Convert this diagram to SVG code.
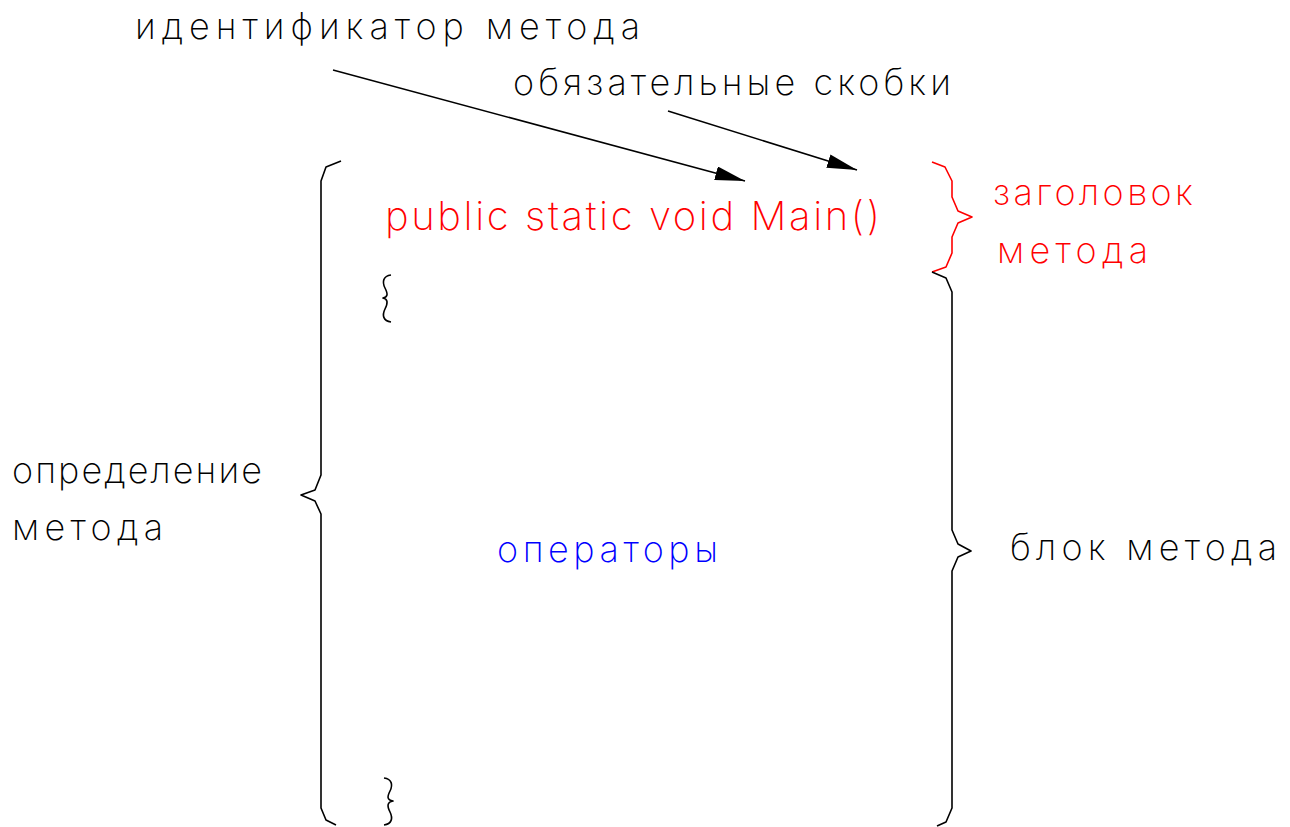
<svg xmlns="http://www.w3.org/2000/svg" width="1290" height="827" viewBox="0 0 1290 827">
  <style>
    text { font-family: Inter, "DejaVu Sans", sans-serif; font-weight: 200; font-size: 36px; }
    .blk { fill: #000; }
    .red { fill: #ff0000; }
    .blue { fill: #0000ff; }
    .br { fill: none; stroke: #000; stroke-width: 1.6; stroke-linejoin: round; }
    .brr { fill: none; stroke: #ff0000; stroke-width: 1.6; stroke-linejoin: round; }
    .ln { stroke: #000; stroke-width: 1.5; }
  </style>
  <defs>
    <marker id="arrow" viewBox="0 0 30 14" refX="30" refY="7" markerWidth="30" markerHeight="14" markerUnits="userSpaceOnUse" orient="auto">
      <path d="M0,0 L30,7 L0,14 Z" fill="#000"/>
    </marker>
  </defs>
  <rect width="1290" height="827" fill="#fff"/>

  <!-- callout labels -->
  <g id="label-identifier">
    <text class="blk" x="135" y="39" textLength="505" lengthAdjust="spacing">идентификатор метода</text>
  </g>
  <g id="label-parens">
    <text class="blk" x="513" y="95" textLength="438" lengthAdjust="spacing">обязательные скобки</text>
  </g>

  <!-- method header -->
  <g id="header">
    <text class="red" x="385" y="230" textLength="495" lengthAdjust="spacing" style="font-size:40px">public static void Main()</text>
  </g>
  <g id="label-header">
    <text class="red" x="993" y="205" textLength="200" lengthAdjust="spacing">заголовок</text>
    <text class="red" x="997" y="263" textLength="151" lengthAdjust="spacing">метода</text>
  </g>

  <!-- method definition -->
  <g id="label-definition">
    <text class="blk" x="12" y="483" textLength="250" lengthAdjust="spacing">определение</text>
    <text class="blk" x="12" y="540" textLength="151" lengthAdjust="spacing">метода</text>
  </g>

  <!-- statements -->
  <g id="statements">
    <text class="blue" x="497" y="562" textLength="221" lengthAdjust="spacing">операторы</text>
  </g>

  <!-- method body -->
  <g id="label-body">
    <text class="blk" x="1010" y="560" textLength="267" lengthAdjust="spacing">блок метода</text>
  </g>

  <!-- code braces -->
  <g id="open-brace">
    <path class="br" d="M391,275 C383,276 382,282 385,288 C388,294 388,297 383,298 C388,299 388,303 385,309 C382,315 383,321 391,322"/>
  </g>
  <g id="close-brace">
    <path class="br" d="M384,778 C392,779 393,785 390,791 C387,797 387,800 393,801 C387,802 387,806 390,812 C393,818 392,824 384,825"/>
  </g>

  <!-- annotation braces -->
  <g id="brace-definition">
    <path class="br" d="M341,161 L326,167 L321,181 L321,475 L315,490 L301,495 L315,501 L321,514 L321,808 L326,820 L336,825"/>
  </g>
  <g id="brace-header">
    <path class="brr" d="M932,162 L945,167 L952,181 L952,197 L958,211 L972,217 L958,223 L952,237 L952,253 L946,267 L932,272"/>
  </g>
  <g id="brace-body">
    <path class="br" d="M932,272 L946,278 L952,292 L952,530 L958,544 L971,551 L958,557 L952,571 L952,808 L946,822 L937,826"/>
  </g>

  <!-- connectors -->
  <g id="connectors">
    <line class="ln" x1="333" y1="70" x2="745" y2="181" marker-end="url(#arrow)"/>
    <line class="ln" x1="668" y1="111" x2="857" y2="170" marker-end="url(#arrow)"/>
  </g>
</svg>
